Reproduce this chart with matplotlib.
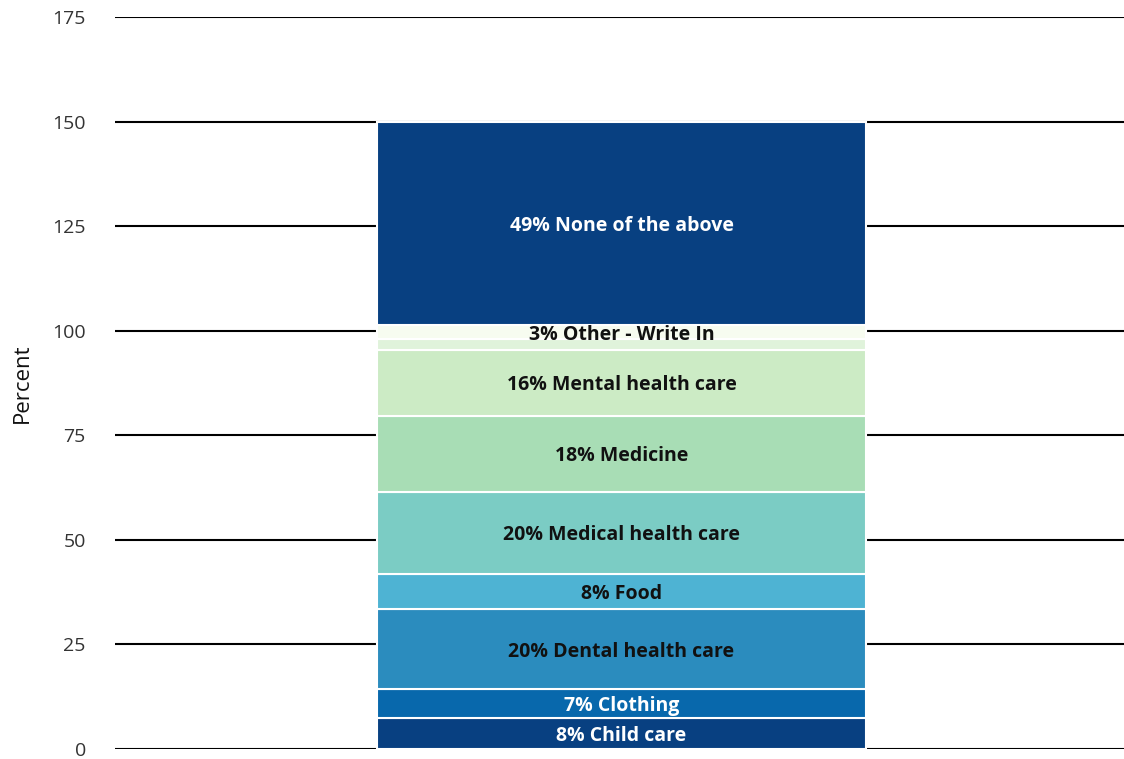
import matplotlib
matplotlib.use("Agg")
import matplotlib.pyplot as plt

# stacked segments, bottom to top
categories = ["Child care", "Clothing", "Dental health care", "Food",
              "Medical health care", "Medicine", "Mental health care",
              "", "Other - Write In", "None of the above"]
values = [7.3, 7.05, 19.1, 8.5, 19.55, 18.2, 15.7, 2.5, 3.5, 48.6]
pct_labels = [8, 7, 20, 8, 20, 18, 16, None, 3, 49]
colors = ["#084081", "#0868ac", "#2b8cbe", "#4eb3d3", "#7bccc4",
          "#a8ddb5", "#ccebc5", "#e0f3db", "#f7fcf0", "#084081"]
yticks = [0, 25, 50, 75, 100, 125, 150, 175]

plt.rcParams['font.family'] = ['Open Sans', 'DejaVu Sans']

fig = plt.figure(figsize=(11.24, 7.59), dpi=100)
ax = fig.add_axes([115 / 1124, 10 / 759, 1009 / 1124, 732 / 759])

bottom = 0
for cat, val, pct, col in zip(categories, values, pct_labels, colors):
    ax.bar(0, val, bottom=bottom, width=0.484, color=col,
           edgecolor="white", linewidth=1.5, zorder=3)
    if pct is not None:
        txt_col = "white" if col in ("#084081", "#0868ac") else "#111111"
        ax.text(0, bottom + val / 2 - 0.6, f"{pct}% {cat}", ha="center", va="center",
                fontsize=14, fontweight="bold", color=txt_col, zorder=4)
    bottom += val

ax.set_xlim(-0.502, 0.498)
ax.set_ylim(0, 175)
ax.set_yticks(yticks)
ax.set_xticks([])
ax.yaxis.grid(True, color="black", linewidth=1.5, zorder=1)
ax.set_axisbelow(True)
for s in ax.spines.values():
    s.set_visible(False)
ax.tick_params(axis="y", length=0, pad=21, labelsize=14, labelcolor="#333333")
ax.set_ylabel("Percent", fontsize=16, color="#111111", va="center")
ax.yaxis.set_label_coords(-93 / 1009, 0.5)

fig.savefig("out.png", dpi=100)
